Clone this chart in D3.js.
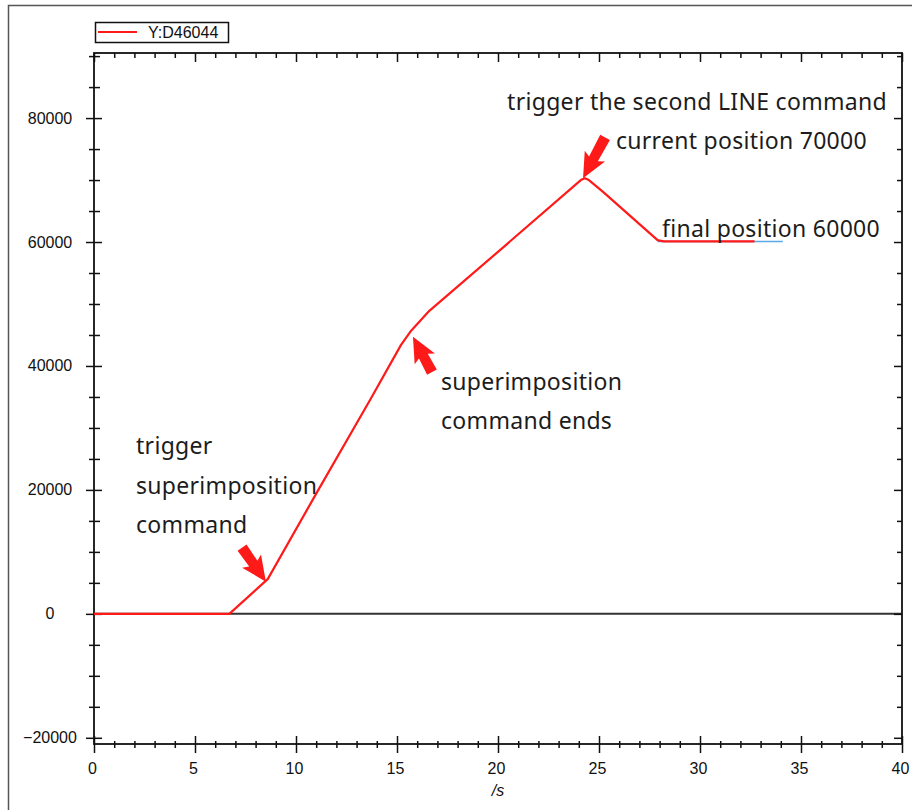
<!DOCTYPE html>
<html><head><meta charset="utf-8">
<script src="https://cdn.jsdelivr.net/npm/d3@7/dist/d3.min.js"></script>
<style>body{margin:0;background:#fff}svg{display:block}</style>
</head><body>
<svg id="chart" width="912" height="810"></svg>
<script>
// ---------- data ----------
const timeS = [0, 6.7, 8.6, 11.0, 13.7, 15.2, 15.7, 16.6, 20.1, 24.1, 24.3, 24.5, 25.2, 27.9, 28.2, 32.7];
const positionD46044 = [0, 0, 5600, 19400, 34700, 43400, 45700, 48900, 58700, 70000, 70300, 70000, 68100, 60300, 60100, 60100];
const seriesName = "Y:D46044";
const xTickLabels = [0, 5, 10, 15, 20, 25, 30, 35, 40];
const yTickLabels = [-20000, 0, 20000, 40000, 60000, 80000];
const xAxisTitle = "/s";
const refLineX = [27.9, 34.1];
const refLineY = [60100, 60100];
const noteTexts = ["trigger the second LINE command", "current position 70000", "final position 60000",
  "superimposition", "command ends", "trigger", "superimposition", "command"];
const noteX = [20.45, 25.84, 28.12, 17.18, 17.18, 2.08, 2.08, 2.08];
const noteY = [81300, 75000, 60800, 36100, 29800, 25800, 19300, 13000];
const arrowTipX = [8.51, 15.79, 24.21];
const arrowTipY = [5200, 44700, 70300];
const arrowTailX = [7.33, 16.73, 25.30];
const arrowTailY = [10700, 39000, 76900];

// ---------- chart ----------
const svg = d3.select("#chart");
const x = d3.scaleLinear().domain([0, 40]).range([94, 902]);
const y = d3.scaleLinear().domain([-21000, 90500]).range([744, 53]);
const axisColor = "#111";
const tickFont = "'Liberation Sans', Arial, sans-serif";

// outer frame
svg.append("path").attr("d", "M8.5,810 V5.5 H912").attr("fill", "none").attr("stroke", "#555").attr("stroke-width", 1.5);

// zero line
svg.append("line").attr("x1", x(0)).attr("x2", x(40)).attr("y1", y(0)).attr("y2", y(0))
  .attr("stroke", "#333").attr("stroke-width", 2);

const xMinor = d3.range(0, 41, 1);
const yMinor = d3.range(-20000, 90001, 5000);

function styleAxis(g) {
  g.select(".domain").remove();
  g.selectAll("line").attr("stroke", axisColor).attr("stroke-width", 1.5);
}

// bottom axis
const gB = svg.append("g").attr("transform", `translate(0,${y.range()[0]})`)
  .call(d3.axisBottom(x).tickValues(xMinor).tickFormat("").tickSize(0));
gB.selectAll(".tick line").attr("y1", d => d % 5 === 0 ? -8 : -3).attr("y2", d => d % 5 === 0 ? 9 : 4);
styleAxis(gB);
const gBL = svg.append("g").attr("transform", `translate(0,${y.range()[0]})`)
  .call(d3.axisBottom(x).tickValues(xTickLabels).tickFormat(d3.format("d")).tickSize(0));
gBL.select(".domain").remove();
gBL.selectAll("text").attr("y", 29.5).attr("dy", 0).attr("dx", -2)
  .attr("font-family", tickFont).attr("font-size", 16).attr("fill", "#111");

// top axis
const gT = svg.append("g").attr("transform", `translate(0,${y.range()[1]})`)
  .call(d3.axisBottom(x).tickValues(xMinor).tickFormat("").tickSize(0));
gT.selectAll(".tick line").attr("y1", 0).attr("y2", d => d % 5 === 0 ? 9 : 5);
styleAxis(gT);

// left axis
const gL = svg.append("g").attr("transform", `translate(${x.range()[0]},0)`)
  .call(d3.axisLeft(y).tickValues(yMinor).tickFormat("").tickSize(0));
gL.selectAll(".tick line").attr("x1", d => d % 20000 === 0 ? -8 : -5).attr("x2", d => d % 20000 === 0 ? 8 : 6);
styleAxis(gL);
const gLL = svg.append("g").attr("transform", `translate(${x.range()[0]},0)`)
  .call(d3.axisLeft(y).tickValues(yTickLabels).tickFormat(d3.format("d")).tickSize(0));
gLL.select(".domain").remove();
gLL.selectAll("text").attr("x", -44).attr("dy", 0).attr("y", 5).attr("text-anchor", "middle")
  .attr("font-family", tickFont).attr("font-size", 16).attr("fill", "#111");

// right axis
const gR = svg.append("g").attr("transform", `translate(${x.range()[1]},0)`)
  .call(d3.axisLeft(y).tickValues(yMinor).tickFormat("").tickSize(0));
gR.selectAll(".tick line").attr("x1", d => d % 20000 === 0 ? -8 : -5).attr("x2", 0);
styleAxis(gR);

// axis lines (frame of plot)
svg.append("rect").attr("x", x(0)).attr("y", y.range()[1])
  .attr("width", x(40) - x(0)).attr("height", y.range()[0] - y.range()[1])
  .attr("fill", "none").attr("stroke", axisColor).attr("stroke-width", 1.8);

// x axis title
svg.append("text").attr("x", (x(0) + x(40)) / 2).attr("y", 796).attr("text-anchor", "middle")
  .attr("font-family", tickFont).attr("font-size", 16).attr("font-style", "italic").attr("fill", "#111")
  .text(xAxisTitle);

// reference (blue) line
const line = d3.line().x(d => x(d[0])).y(d => y(d[1]));
svg.append("path").datum(d3.zip(refLineX, refLineY)).attr("d", line)
  .attr("fill", "none").attr("stroke", "#5aa9ea").attr("stroke-width", 1.5);

// data line
svg.append("path").datum(d3.zip(timeS, positionD46044)).attr("d", line)
  .attr("fill", "none").attr("stroke", "#ff1a1a").attr("stroke-width", 2.2).attr("stroke-linejoin", "round");

// legend
const lg = svg.append("g");
lg.append("rect").attr("x", 95.5).attr("y", 22.5).attr("width", 133).attr("height", 20)
  .attr("fill", "#fff").attr("stroke", "#111").attr("stroke-width", 1.5);
lg.append("line").attr("x1", 98).attr("x2", 137).attr("y1", 32).attr("y2", 32)
  .attr("stroke", "#ff1a1a").attr("stroke-width", 2);
lg.append("text").attr("x", 148).attr("y", 38).attr("font-family", tickFont).attr("font-size", 16)
  .attr("fill", "#111").text(seriesName);

// arrows
function arrowPath(tx, ty, sx, sy) {
  const dx = tx - sx, dy = ty - sy, L = Math.hypot(dx, dy);
  const ux = dx / L, uy = dy / L, nx = -uy, ny = ux;
  const headLen = 21, headHalf = 11.5, shaftHalf = 5, tailHalf = 5.5;
  const bx = tx - ux * headLen, by = ty - uy * headLen;
  const p = [
    [sx + nx * tailHalf, sy + ny * tailHalf],
    [bx + nx * shaftHalf - ux * 1, by + ny * shaftHalf - uy * 1],
    [bx + nx * headHalf - ux * 4, by + ny * headHalf - uy * 4],
    [tx, ty],
    [bx - nx * headHalf - ux * 4, by - ny * headHalf - uy * 4],
    [bx - nx * shaftHalf - ux * 1, by - ny * shaftHalf - uy * 1],
    [sx - nx * tailHalf, sy - ny * tailHalf]
  ];
  return "M" + p.map(q => q.join(",")).join("L") + "Z";
}
svg.append("g").selectAll("path").data(d3.range(arrowTipX.length)).join("path")
  .attr("d", i => arrowPath(x(arrowTipX[i]), y(arrowTipY[i]), x(arrowTailX[i]), y(arrowTailY[i])))
  .attr("fill", "#ff1a1a");

// annotation texts
svg.append("g").selectAll("text").data(d3.range(noteTexts.length)).join("text")
  .attr("x", i => x(noteX[i])).attr("y", i => y(noteY[i]))
  .attr("font-family", "'Noto Sans', 'Open Sans', sans-serif").attr("font-size", 23)
  .attr("letter-spacing", 0.3)
  .attr("fill", "#1c1c1c").text(i => noteTexts[i]);
</script>
</body></html>
